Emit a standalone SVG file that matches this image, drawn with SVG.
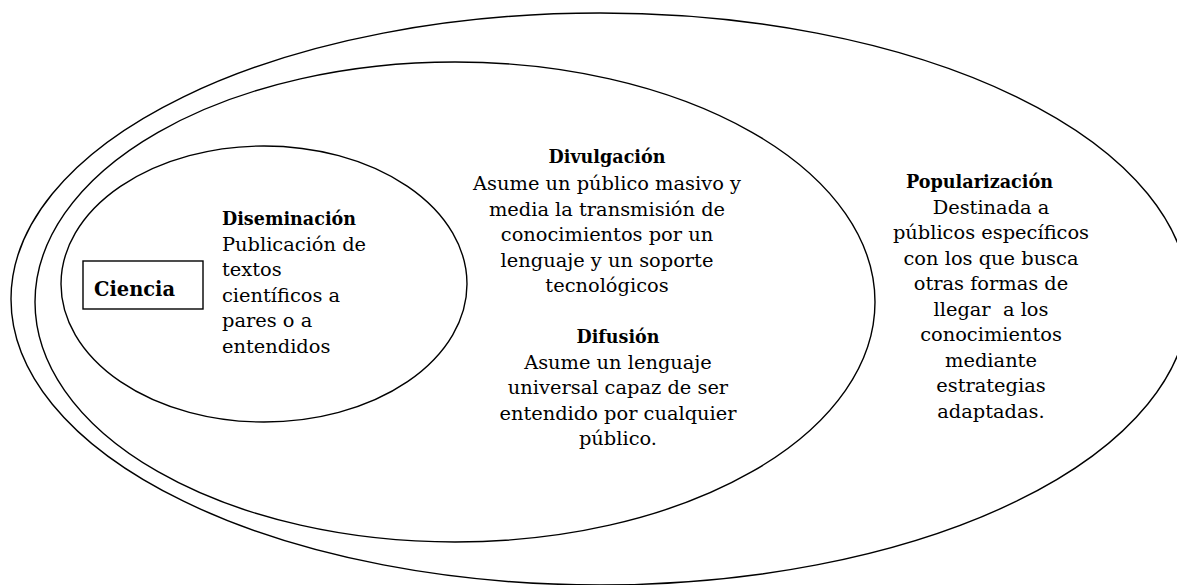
<svg xmlns="http://www.w3.org/2000/svg" width="1177" height="585" viewBox="0 0 1177 585">
<style>
.shape{fill:none;stroke:#000;stroke-width:1.4}
.t{font-family:"DejaVu Serif","Liberation Serif",serif;font-size:19.4px;fill:#000}
.h{font-family:"DejaVu Serif","Liberation Serif",serif;font-size:19px;font-weight:bold;fill:#000}
.c{text-anchor:middle}
</style>
<rect width="1177" height="585" fill="#fff"/>
<g id="popularizacion">
<ellipse class="shape" cx="600" cy="299" rx="589" ry="286"/>
<text class="h" x="906" y="188" textLength="147" lengthAdjust="spacingAndGlyphs">Popularización</text>
<g class="t c">
<text x="991" y="213.5">Destinada a</text>
<text x="991" y="239">públicos específicos</text>
<text x="991" y="264.5">con los que busca</text>
<text x="991" y="290">otras formas de</text>
<text x="991" y="315.5">llegar&#160; a los</text>
<text x="991" y="341">conocimientos</text>
<text x="991" y="366.5">mediante</text>
<text x="991" y="392">estrategias</text>
<text x="991" y="417.5">adaptadas.</text>
</g>
</g>
<g id="divulgacion">
<ellipse class="shape" cx="455" cy="302" rx="420" ry="240"/>
<text class="h c" x="607" y="163" textLength="117" lengthAdjust="spacingAndGlyphs">Divulgación</text>
<g class="t c">
<text x="607" y="190">Asume un público masivo y</text>
<text x="607" y="215.5">media la transmisión de</text>
<text x="607" y="241">conocimientos por un</text>
<text x="607" y="266.5">lenguaje y un soporte</text>
<text x="607" y="292">tecnológicos</text>
</g>
</g>
<g id="difusion">
<text class="h c" x="618" y="343" textLength="83" lengthAdjust="spacingAndGlyphs">Difusión</text>
<g class="t c">
<text x="618" y="368.5">Asume un lenguaje</text>
<text x="618" y="394">universal capaz de ser</text>
<text x="618" y="419.5">entendido por cualquier</text>
<text x="618" y="445">público.</text>
</g>
</g>
<g id="diseminacion">
<ellipse class="shape" cx="264" cy="284" rx="203" ry="138"/>
<text class="h" x="222" y="225" textLength="134" lengthAdjust="spacingAndGlyphs">Diseminación</text>
<g class="t">
<text x="222" y="250.5">Publicación de</text>
<text x="222" y="276">textos</text>
<text x="222" y="301.5">científicos a</text>
<text x="222" y="327">pares o a</text>
<text x="222" y="352.5">entendidos</text>
</g>
</g>
<g id="ciencia">
<rect class="shape" x="83" y="261" width="120" height="48"/>
<text class="h" x="94" y="296" style="font-size:21px" textLength="81" lengthAdjust="spacingAndGlyphs">Ciencia</text>
</g>
<g id="connectors"/>
</svg>
